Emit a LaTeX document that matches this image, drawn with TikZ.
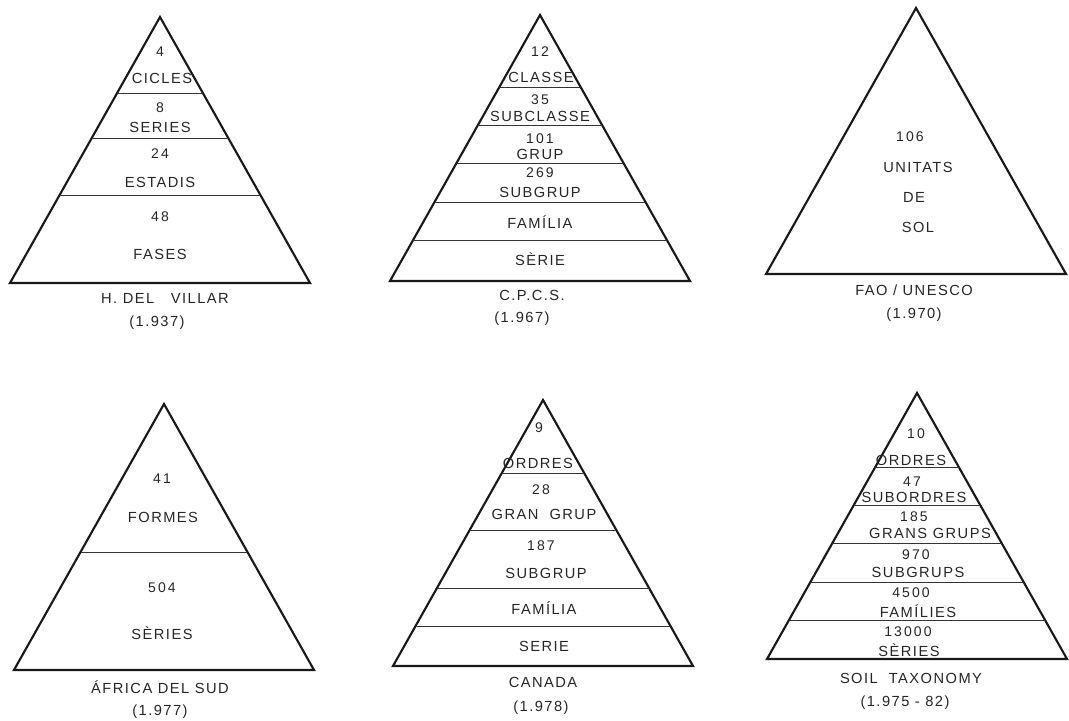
\documentclass[tikz,border=0pt]{standalone}
\usepackage{fontspec}
\setmainfont{Liberation Sans}[LetterSpace=10]
\newfontfamily\digitfont{Liberation Sans}[LetterSpace=15]
\usetikzlibrary{positioning}

\begin{document}
\begin{tikzpicture}[
  x=0.75pt, y=-0.75pt,
  tri/.style={draw=black!90, line width=1.6pt, line join=miter},
  div/.style={draw=black!80, line width=0.7pt},
  word/.style={font=\fontsize{11}{13}\selectfont, text=black!85, inner sep=1pt},
  num/.style={word, font=\digitfont\fontsize{10.5}{12}\selectfont},
  lbl/.style={word},
]
\useasboundingbox (0,0) rectangle (1069,720);

% ===== H. del Villar =====
\begin{scope}[shift={(160,17)}]
  \draw[tri] (0,0) -- (150,266) -- (-150,266) -- cycle;
  \foreach \d in {76,121,178} \draw[div] ({-\d/266*150},\d) -- ({\d/266*150},\d);
  \node[num]  (va) at (0,35)  {4};
  \node[word] (vb) at (2,61)  {CICLES};
  \node[num]  (vc) at (0,91)  {8};
  \node[word] (vd) at (0,110) {SERIES};
  \node[num]  (ve) at (0,137) {24};
  \node[word] (vf) at (0,165) {ESTADIS};
  \node[num]  (vg) at (0,200) {48};
  \node[word] (vh) at (0,237) {FASES};
\end{scope}
\node[lbl] (vill) at (165,298) {H. DEL\ \ \ VILLAR};
\node[lbl] (villy) at (157,323) {(1.937)};

% ===== C.P.C.S. =====
\begin{scope}[shift={(540,15)}]
  \draw[tri] (0,0) -- (150,266) -- (-150,266) -- cycle;
  \foreach \d in {72,110,148,187,225} \draw[div] ({-\d/266*150},\d) -- ({\d/266*150},\d);
  \node[num]  (ca) at (0,37)  {12};
  \node[word] (cb) at (1,62)  {CLASSE};
  \node[num]  (cc) at (0,85)  {35};
  \node[word] (cd) at (0,101) {SUBCLASSE};
  \node[num]  (ce) at (0,124) {101};
  \node[word] (cf) at (0,139) {GRUP};
  \node[num]  (cg) at (0,158) {269};
  \node[word] (ch) at (0,177) {SUBGRUP};
  \node[word] (ci) at (0,207) {FAMÍLIA};
  \node[word] (cj) at (0,244) {SÈRIE};
\end{scope}
\node[lbl] (cpcs) at (532,295) {C.P.C.S.};
\node[lbl] (cpcsy) at (522,319) {(1.967)};

% ===== FAO / UNESCO =====
\begin{scope}[shift={(916,8)}]
  \draw[tri] (0,0) -- (150,266) -- (-150,266) -- cycle;
  \node[num]  (fa) at (-6,129) {106};
  \node[word] (fb) at (2,159)  {UNITATS};
  \node[word] (fc) at (-2,189) {DE};
  \node[word] (fd) at (2,219)  {SOL};
\end{scope}
\node[lbl] (fao) at (914,290) {FAO / UNESCO};
\node[lbl] (faoy) at (914,315) {(1.970)};

% ===== Africa del Sud =====
\begin{scope}[shift={(164,404)}]
  \draw[tri] (0,0) -- (150,266) -- (-150,266) -- cycle;
  \foreach \d in {148} \draw[div] ({-\d/266*150},\d) -- ({\d/266*150},\d);
  \node[num]  (aa) at (-2,75)  {41};
  \node[word] (ab) at (-1,113) {FORMES};
  \node[num]  (ac) at (-2,184) {504};
  \node[word] (ad) at (-2,229) {SÈRIES};
\end{scope}
\node[lbl] (afr) at (160,687) {ÁFRICA DEL SUD};
\node[lbl] (afry) at (160,712) {(1.977)};

% ===== Canada =====
\begin{scope}[shift={(543,400)}]
  \draw[tri] (0,0) -- (150,266) -- (-150,266) -- cycle;
  \foreach \d in {73,130,188,226} \draw[div] ({-\d/266*150},\d) -- ({\d/266*150},\d);
  \node[num]  (ka) at (-4,28)  {9};
  \node[word] (kb) at (-5,63)  {ORDRES};
  \node[num]  (kc) at (-2,90)  {28};
  \node[word] (kd) at (1,114)  {GRAN\ \ GRUP};
  \node[num]  (ke) at (-2,146) {187};
  \node[word] (kf) at (3,173)  {SUBGRUP};
  \node[word] (kg) at (1,208)  {FAMÍLIA};
  \node[word] (kh) at (1,246)  {SERIE};
\end{scope}
\node[lbl] (can) at (543,682) {CANADA};
\node[lbl] (cany) at (541,708) {(1.978)};

% ===== Soil Taxonomy =====
\begin{scope}[shift={(917,393)}]
  \draw[tri] (0,0) -- (150,266) -- (-150,266) -- cycle;
  \foreach \d in {74,112,150,189,227} \draw[div] ({-\d/266*150},\d) -- ({\d/266*150},\d);
  \node[num]  (sa) at (-1,41)  {10};
  \node[word] (sb) at (-6,67)  {ORDRES};
  \node[num]  (sc) at (-5,89)  {47};
  \node[word] (sd) at (-3,104) {SUBORDRES};
  \node[num]  (se) at (-3,124) {185};
  \node[word] (sf) at (13,140) {GRANS GRUPS};
  \node[num]  (sg) at (-1,162) {970};
  \node[word] (sh) at (1,179)  {SUBGRUPS};
  \node[num]  (si) at (-6,200) {4500};
  \node[word] (sj) at (1,218)  {FAMÍLIES};
  \node[num]  (sk) at (-9,239) {13000};
  \node[word] (sl) at (-8,257) {SÈRIES};
\end{scope}
\node[lbl] (soil) at (911,678) {SOIL\ \ TAXONOMY};
\node[lbl] (soily) at (905,703) {(1.975 - 82)};
\end{tikzpicture}
\end{document}
